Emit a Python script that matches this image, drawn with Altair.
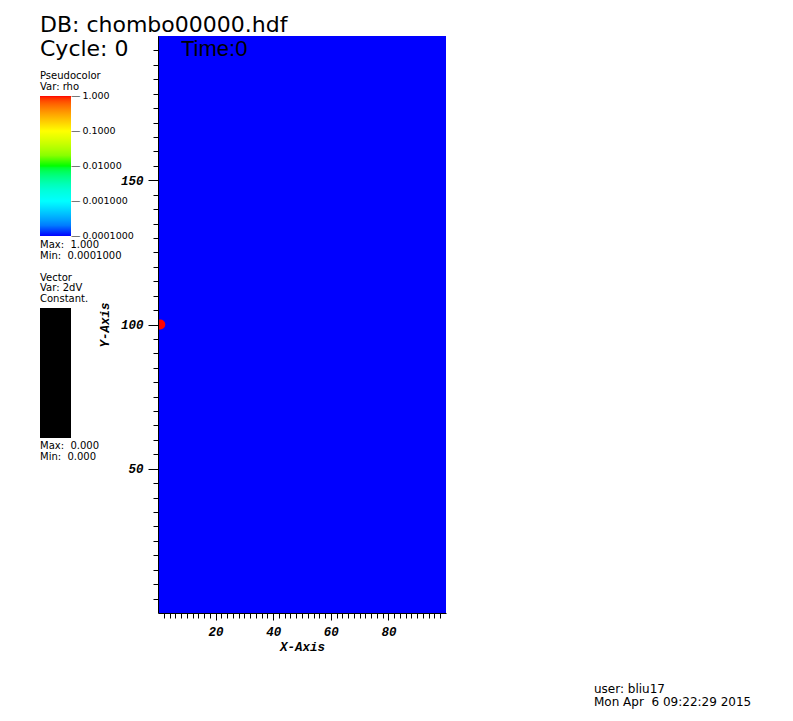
import altair as alt
import pandas as pd

# ---- data ----
field_x0 = [0]
field_x1 = [100]
field_y0 = [0]
field_y1 = [200]
field_rho = [0.0001]

blob_x = [0.8]
blob_y = [100]
blob_rho = [1.0]

# colour-bar label positions (ends nudged a hair inside the domain so they stay centred)
cbar_values = [0.9999, 0.1, 0.01, 0.001, 0.00010001]
cmap_colors = ["#0000ff", "#00ffff", "#00ff00", "#ffff00", "#ff0000"]
cmap_stops = [0.0001, 0.001, 0.01, 0.1, 1.0]

x_ticks = list(range(2, 100, 2))
y_ticks = list(range(5, 200, 5))

header_texts = ["DB: chombo00000.hdf", "Cycle: 0", "Time:0"]
pc_texts = ["Pseudocolor", "Var: rho", "Max:\u00a0 1.000", "Min:\u00a0 0.0001000"]
vec_texts = ["Vector", "Var: 2dV", "Constant.", "Max:\u00a0 0.000", "Min:\u00a0 0.000"]
footer_texts = ["user: bliu17", "Mon Apr \u00a06 09:22:29 2015"]

W, H = 288, 577
SANS = "DejaVu Sans"
MONO = "Liberation Mono"

field = pd.DataFrame({"x": field_x0, "x2": field_x1, "y": field_y0, "y2": field_y1, "rho": field_rho})
blob = pd.DataFrame({"x": blob_x, "y": blob_y, "rho": blob_rho})

xscale = alt.Scale(domain=[0, 100], nice=False, zero=False)
yscale = alt.Scale(domain=[0, 200], nice=False, zero=False)
cscale = alt.Scale(type="log", domain=cmap_stops, range=cmap_colors)

axis_common = dict(
    labelFont=MONO, labelFontWeight="bold", labelFontStyle="italic", labelFontSize=12.5,
    labelColor="black", titleFont=MONO, titleFontWeight="bold", titleFontStyle="italic",
    titleFontSize=12.5, titleColor="black", domainColor="black", tickColor="black",
    grid=False, labelOverlap=False, tickCount=500, zindex=1,
)

xaxis = alt.Axis(values=x_ticks, title="X-Axis",
                 labelExpr="datum.value % 20 === 0 ? datum.value : ''",
                 tickSize=alt.ExprRef(expr="datum.value % 20 === 0 ? 7 : 5"),
                 labelPadding=5, titlePadding=3, **axis_common)
yaxis = alt.Axis(values=y_ticks, title="Y-Axis",
                 labelExpr="datum.value % 50 === 0 ? datum.value : ''",
                 tickSize=alt.ExprRef(expr="datum.value % 50 === 0 ? 10 : 5"),
                 labelPadding=5, titlePadding=9, **axis_common)

legend = alt.Legend(orient="none", legendX=-118, legendY=60, direction="vertical",
                    gradientLength=140, gradientThickness=31, title=None,
                    values=cbar_values,
                    labelExpr="'\u2014\u2009' + format(pow(10, round(log(datum.value) / LN10)), '.4r')",
                    labelFont=SANS, labelFontSize=9.5, labelColor="black",
                    labelOffset=0, labelOverlap=False, gradientStrokeWidth=0,
                    padding=0)

base_rect = alt.Chart(field).mark_rect(strokeWidth=0).encode(
    x=alt.X("x:Q", scale=xscale, axis=xaxis),
    x2="x2:Q",
    y=alt.Y("y:Q", scale=yscale, axis=yaxis),
    y2="y2:Q",
    color=alt.Color("rho:Q", scale=cscale, legend=legend),
)

dot = alt.Chart(blob).mark_circle(size=100, opacity=1, clip=True).encode(
    x=alt.X("x:Q", scale=xscale, axis=xaxis),
    y=alt.Y("y:Q", scale=yscale, axis=yaxis),
    color=alt.Color("rho:Q", scale=cscale, legend=legend),
)


def txt(s, px, py, size=10, baseline="middle", font=SANS):
    return alt.Chart(pd.DataFrame({"label": [s]})).mark_text(
        align="left", baseline=baseline, font=font, fontSize=size, color="black"
    ).encode(text="label:N", x=alt.value(px), y=alt.value(py))


ox, oy = 158, 36  # page position of plot origin
layers = [base_rect, dot]
layers.append(txt(header_texts[0], 40 - ox, 32 - oy, 22, "alphabetic"))
layers.append(txt(header_texts[1], 40 - ox, 56 - oy, 22, "alphabetic"))
layers.append(txt(header_texts[2], 181 - ox, 56 - oy, 22, "alphabetic", "Liberation Sans"))
layers.append(txt(pc_texts[0], 40 - ox, 76 - oy))
layers.append(txt(pc_texts[1], 40 - ox, 87 - oy))
layers.append(txt(pc_texts[2], 40 - ox, 245 - oy))
layers.append(txt(pc_texts[3], 40 - ox, 256 - oy))
layers.append(txt(vec_texts[0], 40 - ox, 278 - oy))
layers.append(txt(vec_texts[1], 40 - ox, 288 - oy))
layers.append(txt(vec_texts[2], 40 - ox, 299 - oy))
layers.append(txt(vec_texts[3], 40 - ox, 446 - oy))
layers.append(txt(vec_texts[4], 40 - ox, 457 - oy))
layers.append(txt(footer_texts[0], 594 - ox, 689 - oy, 12))
layers.append(txt(footer_texts[1], 594 - ox, 702 - oy, 12))

vec_bar = alt.Chart(pd.DataFrame({"v": [0.0]})).mark_rect(color="black").encode(
    x=alt.value(40 - ox), x2=alt.value(71 - ox), y=alt.value(308 - oy), y2=alt.value(438 - oy)
)
layers.append(vec_bar)

chart = alt.layer(*layers).properties(
    width=W, height=H,
    autosize=alt.AutoSizeParams(type="none"),
    padding={"left": 150, "top": 28, "right": 330, "bottom": 100},
    background="white",
).configure_view(strokeWidth=0)

chart.save("out.html", embed_options={"renderer": "svg", "actions": False})
